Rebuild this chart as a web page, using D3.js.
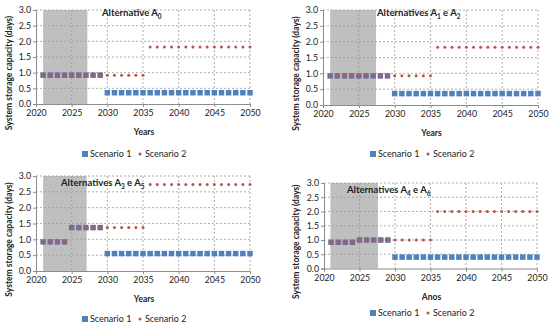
<!DOCTYPE html>
<html lang="en">
<head>
<meta charset="UTF-8">
<title>System storage capacity</title>
<style>
  body { margin: 0; background: #fff; }
  text { font-family: Lato, "Open Sans", sans-serif; fill: #222; }
</style>
</head>
<body>
<script src="https://cdn.jsdelivr.net/npm/d3@7"></script>
<script>
var years = [2021, 2022, 2023, 2024, 2025, 2026, 2027, 2028, 2029, 2030,
             2031, 2032, 2033, 2034, 2035, 2036, 2037, 2038, 2039, 2040,
             2041, 2042, 2043, 2044, 2045, 2046, 2047, 2048, 2049, 2050];
var xTicks = [2020, 2025, 2030, 2035, 2040, 2045, 2050];
var yTicks = [0, 0.5, 1, 1.5, 2, 2.5, 3];
var seriesNames = ["Scenario 1", "Scenario 2"];

// Alternative A0
var a0s1 = [0.92, 0.92, 0.92, 0.92, 0.92, 0.92, 0.92, 0.92, 0.92, 0.36,
            0.36, 0.36, 0.36, 0.36, 0.36, 0.36, 0.36, 0.36, 0.36, 0.36,
            0.36, 0.36, 0.36, 0.36, 0.36, 0.36, 0.36, 0.36, 0.36, 0.36];
var a0s2 = [0.92, 0.92, 0.92, 0.92, 0.92, 0.92, 0.92, 0.92, 0.92, 0.92,
            0.92, 0.92, 0.92, 0.92, 0.92, 1.82, 1.82, 1.82, 1.82, 1.82,
            1.82, 1.82, 1.82, 1.82, 1.82, 1.82, 1.82, 1.82, 1.82, 1.82];
// Alternatives A1 e A2
var a12s1 = [0.92, 0.92, 0.92, 0.92, 0.92, 0.92, 0.92, 0.92, 0.92, 0.36,
             0.36, 0.36, 0.36, 0.36, 0.36, 0.36, 0.36, 0.36, 0.36, 0.36,
             0.36, 0.36, 0.36, 0.36, 0.36, 0.36, 0.36, 0.36, 0.36, 0.36];
var a12s2 = [0.92, 0.92, 0.92, 0.92, 0.92, 0.92, 0.92, 0.92, 0.92, 0.92,
             0.92, 0.92, 0.92, 0.92, 0.92, 1.82, 1.82, 1.82, 1.82, 1.82,
             1.82, 1.82, 1.82, 1.82, 1.82, 1.82, 1.82, 1.82, 1.82, 1.82];
// Alternatives A3 e A5
var a35s1 = [0.92, 0.92, 0.92, 0.92, 1.37, 1.37, 1.37, 1.37, 1.37, 0.55,
             0.55, 0.55, 0.55, 0.55, 0.55, 0.55, 0.55, 0.55, 0.55, 0.55,
             0.55, 0.55, 0.55, 0.55, 0.55, 0.55, 0.55, 0.55, 0.55, 0.55];
var a35s2 = [0.92, 0.92, 0.92, 0.92, 1.37, 1.37, 1.37, 1.37, 1.37, 1.37,
             1.37, 1.37, 1.37, 1.37, 1.37, 2.73, 2.73, 2.73, 2.73, 2.73,
             2.73, 2.73, 2.73, 2.73, 2.73, 2.73, 2.73, 2.73, 2.73, 2.73];
// Alternatives A4 e A6
var a46s1 = [0.92, 0.92, 0.92, 0.92, 1.0, 1.0, 1.0, 1.0, 1.0, 0.4,
             0.4, 0.4, 0.4, 0.4, 0.4, 0.4, 0.4, 0.4, 0.4, 0.4,
             0.4, 0.4, 0.4, 0.4, 0.4, 0.4, 0.4, 0.4, 0.4, 0.4];
var a46s2 = [0.92, 0.92, 0.92, 0.92, 1.0, 1.0, 1.0, 1.0, 1.0, 1.0,
             1.0, 1.0, 1.0, 1.0, 1.0, 2.0, 2.0, 2.0, 2.0, 2.0,
             2.0, 2.0, 2.0, 2.0, 2.0, 2.0, 2.0, 2.0, 2.0, 2.0];

// shaded period [start, end] in years
var shade1 = [2021, 2027.2];
var shade2 = [2021, 2027.4];
var shade3 = [2021, 2027.1];
var shade4 = [2020.9, 2027.6];

var svg = d3.select("body").append("svg")
  .attr("width", 550)
  .attr("height", 328);

function panel(opt) {
  var x = d3.scaleLinear().domain([2020, 2050]).range([opt.x0, opt.x1]);
  var y = d3.scaleLinear().domain([0, 3]).range([opt.y1, opt.y0]);
  var g = svg.append("g");

  g.append("rect")
    .attr("x", x(opt.shade[0]))
    .attr("y", y(3))
    .attr("width", x(opt.shade[1]) - x(opt.shade[0]))
    .attr("height", y(0) - y(3))
    .attr("fill", "#bfbfbf");

  g.selectAll(".hg").data(yTicks.slice(1)).enter().append("line")
    .attr("x1", opt.x0).attr("x2", opt.x1)
    .attr("y1", function(d) { return y(d); })
    .attr("y2", function(d) { return y(d); })
    .attr("stroke", "#9a9a9a").attr("stroke-width", 0.8)
    .attr("stroke-dasharray", "2,2");

  g.selectAll(".vg").data(xTicks.slice(1)).enter().append("line")
    .attr("y1", opt.y0).attr("y2", opt.y1)
    .attr("x1", function(d) { return x(d); })
    .attr("x2", function(d) { return x(d); })
    .attr("stroke", "#9a9a9a").attr("stroke-width", 0.8)
    .attr("stroke-dasharray", "2,2");

  var yAxis = d3.axisLeft(y).tickValues(yTicks).tickSize(3).tickPadding(2)
    .tickFormat(d3.format(".1f"));
  var ya = g.append("g").attr("transform", "translate(" + opt.x0 + ",0)").call(yAxis);
  var xAxis = d3.axisBottom(x).tickValues(xTicks).tickSize(3).tickPadding(3)
    .tickFormat(d3.format("d"));
  var xa = g.append("g").attr("transform", "translate(0," + opt.y1 + ")").call(xAxis);
  [ya, xa].forEach(function(a) {
    a.select(".domain").attr("stroke", "#8c8c8c");
    a.selectAll(".tick line").attr("stroke", "#8c8c8c");
    a.selectAll(".tick text").style("font-size", "8.8px").attr("fill", "#333")
      .style("font-family", "Lato, sans-serif");
  });

  // Scenario 1 squares
  g.selectAll(".s1").data(opt.s1).enter().append("rect")
    .attr("x", function(d, i) { return x(years[i]) - 2.75; })
    .attr("y", function(d) { return y(d) - 2.75; })
    .attr("width", 5.5).attr("height", 5.5)
    .attr("fill", "#4f81bd");

  // Scenario 2 dots
  g.selectAll(".s2").data(opt.s2).enter().append("circle")
    .attr("cx", function(d, i) { return x(years[i]); })
    .attr("cy", function(d) { return y(d); })
    .attr("r", function(d, i) { return d === opt.s1[i] ? 2.6 : 1.5; })
    .attr("fill", "#c0504d")
    .attr("fill-opacity", function(d, i) { return d === opt.s1[i] ? 0.6 : 1; });

  // title
  var t = g.append("text")
    .attr("x", opt.tx).attr("y", opt.ty)
    .style("font-size", "9.5px").style("font-weight", "bold")
    .attr("fill", "#111");
  opt.title.forEach(function(p) {
    t.append("tspan").text(p[0])
      .attr("dy", p[1] ? 2.5 : (p[2] ? -2.5 : null))
      .style("font-size", p[1] ? "6.5px" : null);
  });

  g.append("text")
    .attr("transform", "translate(" + opt.ytx + "," + ((opt.y0 + opt.y1) / 2 + 16) + ") rotate(-90)")
    .attr("text-anchor", "middle")
    .style("font-size", "8.5px").style("font-weight", "bold")
    .text("System storage capacity (days)");

  g.append("text")
    .attr("x", (opt.x0 + opt.x1) / 2 + 1)
    .attr("y", opt.y1 + 31)
    .attr("text-anchor", "middle")
    .style("font-size", "8.5px").style("font-weight", "bold")
    .text(opt.xTitle);

  // legend
  var lg = g.append("g").attr("transform", "translate(" + opt.lx + "," + opt.ly + ")");
  lg.append("rect").attr("x", -3).attr("y", -3).attr("width", 6).attr("height", 6)
    .attr("fill", "#4f81bd");
  lg.append("text").attr("x", 5).attr("y", 3).style("font-size", "9px").attr("fill", "#333")
    .text(seriesNames[0]);
  lg.append("circle").attr("cx", 55).attr("cy", 0).attr("r", 1.5).attr("fill", "#c0504d");
  lg.append("text").attr("x", 60).attr("y", 3).style("font-size", "9px").attr("fill", "#333")
    .text(seriesNames[1]);
}

panel({ x0: 36, x1: 250, y0: 10, y1: 104, shade: shade1, s1: a0s1, s2: a0s2,
  title: [["Alternative A"], ["0", true]], tx: 102, ty: 16,
  ytx: 12, xTitle: "Years", lx: 85, ly: 154 });
panel({ x0: 323, x1: 538, y0: 10, y1: 105, shade: shade2, s1: a12s1, s2: a12s2,
  title: [["Alternatives A"], ["1", true], [" e A", false, true], ["2", true]], tx: 377, ty: 16,
  ytx: 299, xTitle: "Years", lx: 373, ly: 154 });
panel({ x0: 36, x1: 250, y0: 176, y1: 271, shade: shade3, s1: a35s1, s2: a35s2,
  title: [["Alternatives A"], ["3", true], [" e A", false, true], ["5", true]], tx: 61, ty: 186,
  ytx: 12, xTitle: "Years", lx: 85, ly: 319 });
panel({ x0: 324, x1: 537, y0: 183, y1: 268.5, shade: shade4, s1: a46s1, s2: a46s2,
  title: [["Alternatives A"], ["4", true], [" e A", false, true], ["6", true]], tx: 347, ty: 193,
  ytx: 299, xTitle: "Anos", lx: 373, ly: 313 });
</script>
</body>
</html>
